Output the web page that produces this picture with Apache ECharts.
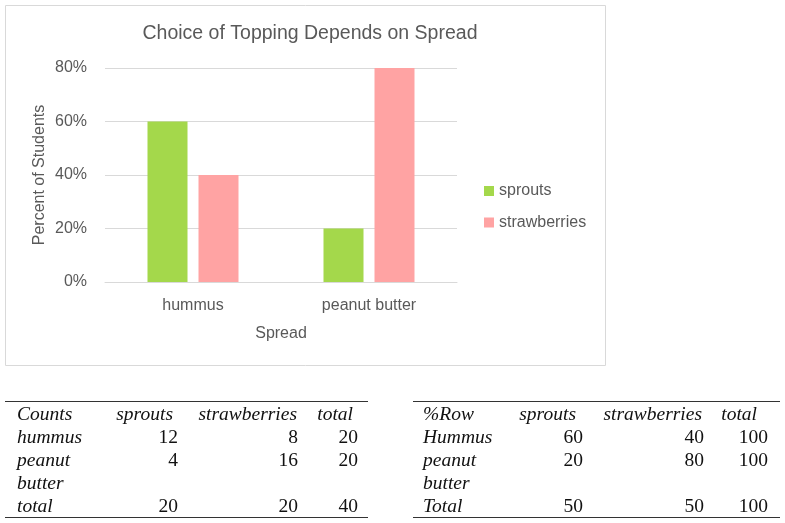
<!DOCTYPE html>
<html>
<head>
<meta charset="utf-8">
<script src="https://cdn.jsdelivr.net/npm/echarts@6/dist/echarts.min.js"></script>
<style>
  body { margin: 0; background: #fff; }
  #chart1 { position: absolute; left: 0; top: 0; width: 785px; height: 523px; }
  table.tbl {
    position: absolute; top: 401px; border-collapse: collapse; table-layout: fixed;
    font-family: "Liberation Serif", serif; font-size: 19.5px; line-height: 23px; color: #111;
    border-top: 1.5px solid #333; border-bottom: 1.5px solid #333;
  }
  table.tbl td { padding: 0; vertical-align: top; text-align: right; }
  table.tbl td.lab { text-align: left; font-style: italic; }
  table.tbl tr.head td { font-style: italic; }
</style>
</head>
<body>
<div id="chart1"></div>
<script>
// chart data (percent of students)
var spreads = ['hummus', 'peanut butter'];
var toppings = ['sprouts', 'strawberries'];
var sproutsPct = [60, 20];
var strawberriesPct = [40, 80];
var yTicks = [0, 20, 40, 60, 80];

// tables
var countHead = ['Counts', 'sprouts', 'strawberries', 'total'];
var countRows = [
  ['hummus', 12, 8, 20],
  ['peanut butter', 4, 16, 20],
  ['total', 20, 20, 40]
];
var rowPctHead = ['%Row', 'sprouts', 'strawberries', 'total'];
var rowPctRows = [
  ['Hummus', 60, 40, 100],
  ['peanut butter', 20, 80, 100],
  ['Total', 50, 50, 100]
];

var myChart = echarts.init(document.getElementById('chart1'));

var txt = '#595959';
var font = 'Liberation Sans';

option = {
  animation: false,
  graphic: [{
    type: 'rect',
    shape: { x: 5.5, y: 5.5, width: 600, height: 360 },
    style: { fill: 'none', stroke: '#d9d9d9', lineWidth: 1 }
  }],
  title: {
    text: 'Choice of Topping Depends on Spread',
    left: 305,
    top: 19,
    textAlign: 'center',
    textStyle: { fontFamily: font, fontSize: 19.5, fontWeight: 'normal', color: txt }
  },
  legend: {
    orient: 'vertical',
    left: 479,
    top: 178,
    icon: 'rect',
    itemWidth: 10,
    itemHeight: 10,
    itemGap: 15.5,
    data: toppings,
    textStyle: { fontFamily: font, fontSize: 16, color: txt }
  },
  grid: { left: 105, right: 328, top: 68, bottom: 241 },
  xAxis: {
    type: 'category',
    data: spreads,
    name: 'Spread',
    nameLocation: 'middle',
    nameGap: 44,
    nameTextStyle: { fontFamily: font, fontSize: 16, color: txt },
    axisTick: { show: false },
    axisLine: { lineStyle: { color: '#d9d9d9', width: 1 } },
    axisLabel: { margin: 16, fontFamily: font, fontSize: 16, color: txt }
  },
  yAxis: {
    type: 'value',
    min: yTicks[0],
    max: yTicks[yTicks.length - 1],
    interval: 20,
    name: 'Percent of Students',
    nameLocation: 'middle',
    nameRotate: 90,
    nameGap: 57,
    nameTextStyle: { fontFamily: font, fontSize: 16, color: txt },
    axisLine: { show: false },
    axisTick: { show: false },
    axisLabel: { formatter: '{value}%', margin: 18, fontFamily: font, fontSize: 16, color: txt },
    splitLine: { lineStyle: { color: '#d9d9d9', width: 1 } }
  },
  series: [
    {
      name: toppings[0],
      type: 'bar',
      data: sproutsPct,
      barWidth: 40,
      barGap: '27.5%',
      itemStyle: { color: '#a4d84b' }
    },
    {
      name: toppings[1],
      type: 'bar',
      data: strawberriesPct,
      barWidth: 40,
      barGap: '27.5%',
      itemStyle: { color: '#ffa3a3' }
    }
  ]
};
myChart.setOption(option);

// draw the two tables under the chart
function buildTable(left, widths, labPad, rightPads, headPads, head, rows) {
  var t = document.createElement('table');
  t.className = 'tbl';
  t.style.left = left + 'px';
  var cg = document.createElement('colgroup');
  widths.forEach(function (w) {
    var c = document.createElement('col');
    c.style.width = w + 'px';
    cg.appendChild(c);
  });
  t.appendChild(cg);
  var all = [head].concat(rows);
  all.forEach(function (r, ri) {
    var tr = document.createElement('tr');
    if (ri === 0) tr.className = 'head';
    r.forEach(function (v, ci) {
      var td = document.createElement('td');
      var d = document.createElement('div');
      d.textContent = v;
      if (ci === 0) {
        td.className = 'lab';
        d.style.paddingLeft = labPad + 'px';
      } else {
        d.style.paddingRight = (ri === 0 ? headPads[ci - 1] : rightPads[ci - 1]) + 'px';
      }
      td.appendChild(d);
      tr.appendChild(td);
    });
    t.appendChild(tr);
  });
  document.body.appendChild(t);
}

buildTable(5, [95, 78, 120, 70], 12, [0, 0, 10], [5, 1, 15], countHead, countRows);
buildTable(413, [92, 78, 121, 76], 10, [0, 0, 12], [7, 2, 23], rowPctHead, rowPctRows);
</script>
</body>
</html>
